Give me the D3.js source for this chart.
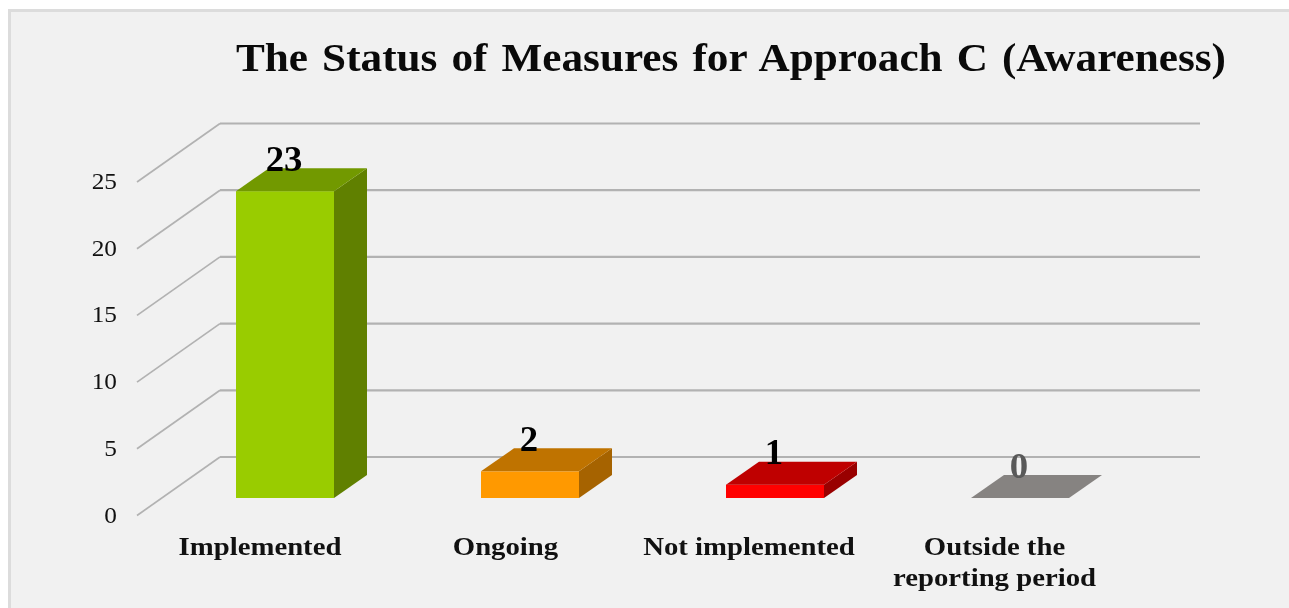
<!DOCTYPE html>
<html><head><meta charset="utf-8">
<script src="https://cdnjs.cloudflare.com/ajax/libs/d3/7.8.5/d3.min.js"></script>
<style>html,body{margin:0;padding:0;background:#fff;overflow:hidden}svg{display:block;filter:blur(0.55px)}</style>
</head><body><svg id="c" width="1289" height="608"></svg>
<script>
const categories = ["Implemented","Ongoing","Not implemented","Outside the|reporting period"];
const values = [23,2,1,0];
const yTicks = [0,5,10,15,20,25];
const faceColors = ["#99cc00","#ff9900","#ff0000","#8a8785"];
const topColors = ["#729900","#bf7300","#bf0000","#868381"];
const sideColors = ["#608000","#a66300","#990000","#6e6c6a"];
const labelColors = ["#000","#000","#000","#595959"];
const titleText = "The Status of Measures for Approach C (Awareness)";

const serif = "'Liberation Serif','Times New Roman',serif";
const svg = d3.select("#c");
svg.append("rect").attr("x",9.5).attr("y",10.5).attr("width",1285).attr("height",605)
  .attr("fill","#f1f1f1").attr("stroke","#dcdcdc").attr("stroke-width",3);

const y = d3.scaleLinear().domain([0,25]).range([515.5,182]);
const wallDx = 83, wallDy = -58.5, wallRight = 1200;
const barBase = 498, barDx = 33, barDy = -23;
const unit = y(0)-y(1);
const x = d3.scaleBand().domain(d3.range(categories.length)).range([162.5,1142.5]).paddingInner(0.6).paddingOuter(0.3);

const stretched = (sel,px,py,sx)=>sel.attr("transform",`translate(${px},${py}) scale(${sx},1)`);

const grid = svg.append("g").attr("fill","none").attr("stroke","#b2b2b2");
yTicks.forEach(t=>{
  grid.append("path").attr("stroke-width",1.7)
    .attr("d",d3.line()([[137,y(t)],[137+wallDx,y(t)+wallDy]]));
  grid.append("path").attr("stroke-width",2.2)
    .attr("d",d3.line()([[137+wallDx,y(t)+wallDy],[wallRight,y(t)+wallDy]]));
  stretched(svg.append("text"),117,y(t)+7,1.1).attr("text-anchor","end")
    .attr("font-family",serif).attr("font-size",23).attr("fill","#111").text(t);
});

const bw = x.bandwidth();
categories.forEach((c,i)=>{
  const x0 = x(i), x1 = x0+bw, b = barBase, t = barBase-values[i]*unit;
  const g = svg.append("g");
  if(values[i]>0){
    g.append("rect").attr("x",x0).attr("y",t).attr("width",bw).attr("height",b-t).attr("fill",faceColors[i]);
    g.append("path").attr("fill",sideColors[i]).attr("d",d3.line()([[x1,b],[x1+barDx,b+barDy],[x1+barDx,t+barDy],[x1,t]])+"Z");
  }
  g.append("path").attr("fill",topColors[i]).attr("d",d3.line()([[x0,t],[x0+barDx,t+barDy],[x1+barDx,t+barDy],[x1,t]])+"Z");
});
categories.forEach((c,i)=>{
  const t = barBase-values[i]*unit;
  stretched(svg.append("text"),x(i)+bw/2-1,t-20.5,1.05).attr("text-anchor","middle")
    .attr("font-family",serif).attr("font-weight","bold").attr("font-size",35).attr("fill",labelColors[i]).text(values[i]);
  const lines = c.split("|");
  const cx = [260,505.5,749,994.5][i];
  lines.forEach((l,k)=>stretched(svg.append("text"),cx,555+k*31,1.15).attr("text-anchor","middle")
    .attr("font-family",serif).attr("font-weight","bold").attr("font-size",25).attr("fill","#111").text(l));
});
svg.append("text").attr("x",731).attr("y",71).attr("text-anchor","middle")
  .attr("font-family",serif).attr("font-weight","bold").attr("font-size",40).attr("fill","#0a0a0a")
  .attr("word-spacing",3)
  .attr("textLength",990).attr("lengthAdjust","spacingAndGlyphs").text(titleText);
</script></body></html>
